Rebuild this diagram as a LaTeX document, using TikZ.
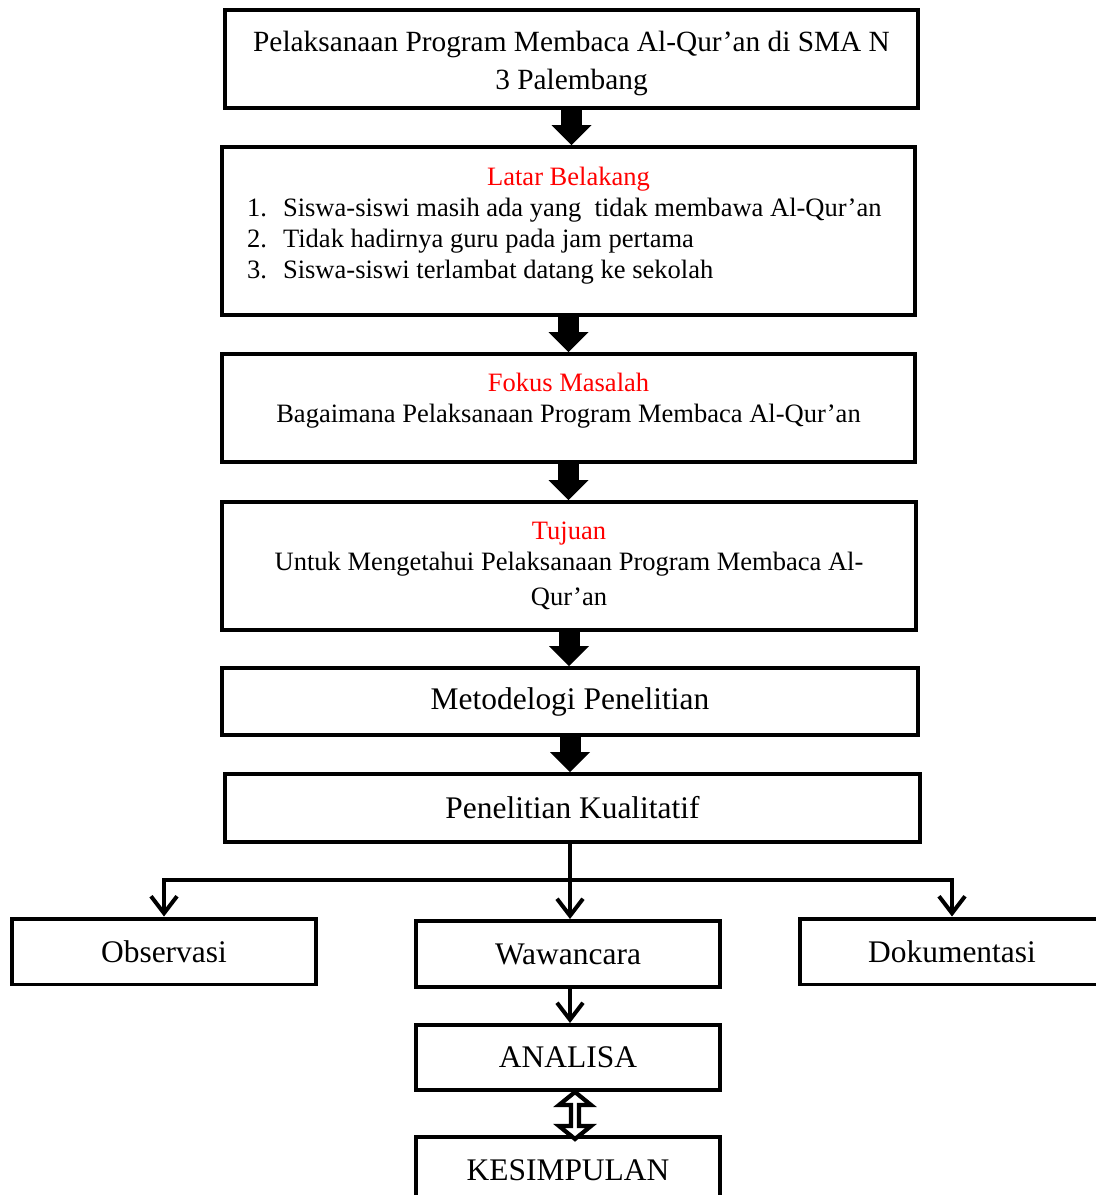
\documentclass[tikz,border=0pt]{standalone}
\usepackage{fontspec}
\setmainfont{Liberation Serif}
\usetikzlibrary{arrows.meta}
\def\teksbesar{\fontsize{17.9}{21.5}\selectfont}
\def\teksjudul{\fontsize{16.7}{21.5}\selectfont}
\def\tekskecil{\fontsize{15.1}{17.6}\selectfont}
\newcommand{\butir}[2]{\makebox[12.86cm][l]{\makebox[0.72cm][l]{#1}#2}}

\begin{document}
\begin{tikzpicture}[x=0.02cm,y=-0.02cm,line width=2.27pt]
    \tikzstyle{kotak}=[draw,rectangle,inner sep=0pt,align=center]
    \tikzstyle{kotak lebar}=[kotak,minimum width=13.86cm,font=\tekskecil]
    \tikzstyle{kotak kecil}=[kotak,minimum width=6.08cm,minimum height=1.32cm,font=\teksbesar]
    \tikzstyle{panah blok}=[line width=0.42cm,-{Triangle[width=0.8cm,length=0.4cm,line width=0pt]}]
    \tikzstyle{panah}=[line cap=round,-{Straight Barb[length=0.34cm,width=0.52cm]}]
    \tikzstyle{dua arah}=[draw,fill=white,line width=2.4pt,line join=miter]

    \useasboundingbox (0,0) rectangle (1095,1195);

    % Draw the main column
    \node[kotak lebar, minimum height=1.96cm, font=\teksjudul] (judul) at (571.5,59)
        {\rule{0pt}{16.5pt}Pelaksanaan Program Membaca Al-Qur’an di SMA N\\3 Palembang};
    \node[kotak lebar, minimum height=3.36cm] (latar) at (568.5,231)
        {\textcolor{red}{Latar Belakang}\\
         \butir{1.}{Siswa-siswi masih ada yang\ \ tidak membawa Al-Qur’an}\\
         \butir{2.}{Tidak hadirnya guru pada jam pertama}\\
         \butir{3.}{Siswa-siswi terlambat datang ke sekolah}\\[-8pt]\mbox{}};
    \node[kotak lebar, minimum height=2.16cm] (fokus) at (568.5,408)
        {\textcolor{red}{Fokus Masalah}\\Bagaimana Pelaksanaan Program Membaca Al-Qur’an\\[-6pt]\mbox{}};
    \node[kotak lebar, minimum height=2.56cm, minimum width=13.88cm] (tujuan) at (569,566)
        {\textcolor{red}{Tujuan}\\Untuk Mengetahui Pelaksanaan Program Membaca Al-\\[2pt]Qur’an};
    \node[kotak lebar, minimum height=1.34cm, minimum width=13.92cm, font=\teksbesar] (metode) at (570,701.5)
        {Metodelogi Penelitian};
    \node[kotak lebar, minimum height=1.36cm, minimum width=13.9cm, font=\teksbesar] (kualitatif) at (572.5,808)
        {Penelitian Kualitatif};

    % Draw the lower boxes
    \node[kotak kecil] (observasi) at (164,951.5) {Observasi};
    \node[kotak kecil] (wawancara) at (568,954) {Wawancara};
    \node[kotak kecil] (dokumentasi) at (952,951.5) {Dokumentasi};
    \node[kotak kecil, minimum height=1.3cm] (analisa) at (568,1057.5) {ANALISA};
    \node[kotak kecil] (kesimpulan) at (568,1170) {KESIMPULAN};

    % Connect the main column with block arrows
    \foreach \dari/\ke in {judul/latar,latar/fokus,fokus/tujuan,tujuan/metode,metode/kualitatif}
        \draw[panah blok] (\dari.south) -- (\dari.south |- \ke.north);

    % Split into the three methods
    \coordinate (cabang) at (570,880);
    \draw (kualitatif.south -| cabang) -- (cabang);
    \draw[panah] (cabang) -| (observasi.north);
    \draw[panah] (cabang) -| (dokumentasi.north);
    \draw[panah] (cabang) -- (wawancara.north -| cabang);
    \draw[panah] (wawancara.south -| cabang) -- (analisa.north -| cabang);

    % Two-way arrow to the conclusion
    \coordinate (ujung) at ([xshift=0.14cm]analisa.south);
    \path[dua arah] (ujung) -- ++(16,13) -- ++(-12,0) -- ++(0,21) -- ++(12,0)
        -- ++(-16,13) -- ++(-16,-13) -- ++(12,0) -- ++(0,-21) -- ++(-12,0) -- cycle;
\end{tikzpicture}
\end{document}
